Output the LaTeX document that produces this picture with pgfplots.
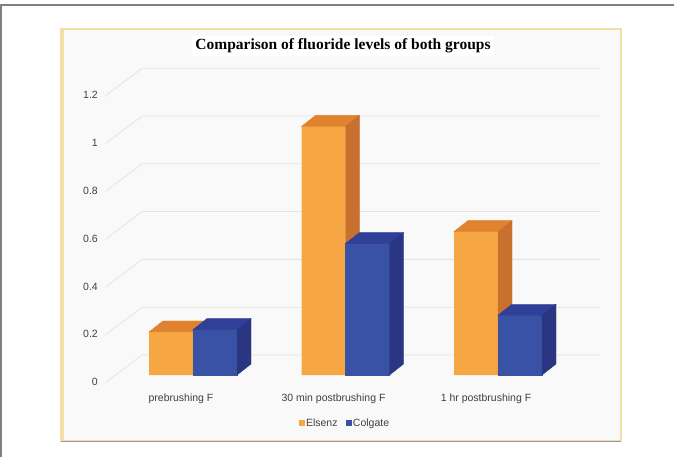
\documentclass[border=0pt]{standalone}
\usepackage{pgfplots}
\pgfplotsset{compat=1.18}
\usepackage{fontspec}
\setmainfont{Liberation Sans}
\newfontfamily\titlefont{Liberation Serif}
\definecolor{oFront}{RGB}{247,166,68}
\definecolor{oTop}{RGB}{224,130,46}
\definecolor{oSide}{RGB}{200,112,46}
\definecolor{bFront}{RGB}{58,82,166}
\definecolor{bTop}{RGB}{48,64,152}
\definecolor{bSide}{RGB}{43,54,130}
\definecolor{gridc}{RGB}{228,228,228}
\definecolor{panelb}{RGB}{243,221,168}
\definecolor{panelf}{RGB}{249,249,249}
\definecolor{txt}{RGB}{64,64,64}
\pgfdeclareplotmark{nothing}{}
\begin{document}
\begin{tikzpicture}[x=1pt,y=1pt]
\useasboundingbox (0,0) rectangle (674,456);
\clip (0,0) rectangle (674,456);
\fill[white] (0,0) rectangle (674,456);
\draw[gray, line width=1.5] (1,-10) -- (1,451) -- (700,451);
% panel
\fill[panelf] (61,15) rectangle (621,427);
\draw[panelb, line width=1.2] (61,15) rectangle (621,427);
\fill[panelb] (60,15) rectangle (64,427);
\draw[gray!80, line width=1] (61,14.5) -- (621,14.5);
\node[font={\titlefont\bfseries\fontsize{15.5}{18}\selectfont}, fill=white, inner sep=3pt] at (343,410) {Comparison of fluoride levels of both groups};
\begin{axis}[at={(61pt,15pt)}, anchor=south west, width=560pt, height=412pt, scale only axis,
  xmin=-0.86557, xmax=2.80656, ymin=-0.27615, ymax=1.44770,
  axis line style={draw=none}, major tick length=0pt, tick style={draw=none},
  clip=false,
  xtick={0,1,2},
  xticklabels={prebrushing F, 30 min postbrushing F, 1 hr postbrushing F},
  xticklabel style={anchor=center, yshift=42pt, xshift=-12pt, font=\fontsize{10.5}{12}\selectfont, text=txt},
  ytick={0,0.2,0.4,0.6,0.8,1,1.2},
  yticklabel style={anchor=east, inner sep=0pt, xshift=37pt, yshift=-7pt, font=\fontsize{10.5}{12}\selectfont, text=txt},
  /pgf/number format/assume math mode=true,
  legend columns=2,
  legend style={at={(axis description cs:0.507,0.0437)}, anchor=center, draw=none, fill=none,
    font=\fontsize{10.5}{12}\selectfont, text=txt,
    /tikz/every even column/.append style={column sep=6pt}},
]
% back wall grid
\addplot[gridc, line width=0.8, forget plot] coordinates {(-0.577,-0.0335) (-0.334,0.0837) (2.669,0.0837)};
\addplot[gridc, line width=0.8, forget plot] coordinates {(-0.577,0.1665) (-0.334,0.2837) (2.669,0.2837)};
\addplot[gridc, line width=0.8, forget plot] coordinates {(-0.577,0.3665) (-0.334,0.4837) (2.669,0.4837)};
\addplot[gridc, line width=0.8, forget plot] coordinates {(-0.577,0.5665) (-0.334,0.6837) (2.669,0.6837)};
\addplot[gridc, line width=0.8, forget plot] coordinates {(-0.577,0.7665) (-0.334,0.8837) (2.669,0.8837)};
\addplot[gridc, line width=0.8, forget plot] coordinates {(-0.577,0.9665) (-0.334,1.0837) (2.669,1.0837)};
\addplot[gridc, line width=0.8, forget plot] coordinates {(-0.577,1.1665) (-0.334,1.2837) (2.669,1.2837)};
% Elsenz
\addplot[ybar, bar width=44pt, bar shift=-22pt, fill=oFront, draw=none, forget plot] coordinates {(0,0.18) (1,1.04) (2,0.60)};
\addplot[forget plot, scatter, only marks, mark=nothing,
  visualization depends on={value \thisrow{v} \as \bv},
  scatter/@pre marker code/.code={%
    \pgfmathsetmacro\bh{\bv*239}%
    \pgfmathsetmacro\bb{11-\bh}%
    \fill[oTop] (-44pt,0pt) -- (-30pt,11pt) -- (14pt,11pt) -- (0pt,0pt) -- cycle;
    \fill[oSide] (0pt,0pt) -- (14pt,11pt) -- (14pt,\bb pt) -- (0pt,-\bh pt) -- cycle;
  },
  scatter/@post marker code/.code={}]
  table[x=x, y=v, row sep=\\] {x v\\ 0 0.18\\ 1 1.04\\ 2 0.60\\};
% Colgate
\addplot[ybar, bar width=44pt, bar shift=22pt, fill=bFront, draw=none, forget plot] coordinates {(0,0.19) (1,0.55) (2,0.25)};
\addplot[forget plot, scatter, only marks, mark=nothing,
  visualization depends on={value \thisrow{v} \as \bv},
  scatter/@pre marker code/.code={%
    \pgfmathsetmacro\bh{\bv*239}%
    \pgfmathsetmacro\bb{11-\bh}%
    \fill[bFront] (0pt,0pt) rectangle (44pt,-\bh pt);
    \fill[bTop] (0pt,0pt) -- (14pt,11pt) -- (58pt,11pt) -- (44pt,0pt) -- cycle;
    \fill[bSide] (44pt,0pt) -- (58pt,11pt) -- (58pt,\bb pt) -- (44pt,-\bh pt) -- cycle;
  },
  scatter/@post marker code/.code={}]
  table[x=x, y=v, row sep=\\] {x v\\ 0 0.19\\ 1 0.55\\ 2 0.25\\};
\addlegendimage{legend image code/.code={\fill[oFront] (0pt,-2.5pt) rectangle (5pt,2.5pt);}}
\addlegendentry{Elsenz}
\addlegendimage{legend image code/.code={\fill[bFront] (0pt,-2.5pt) rectangle (5pt,2.5pt);}}
\addlegendentry{Colgate}
\end{axis}
\end{tikzpicture}
\end{document}
